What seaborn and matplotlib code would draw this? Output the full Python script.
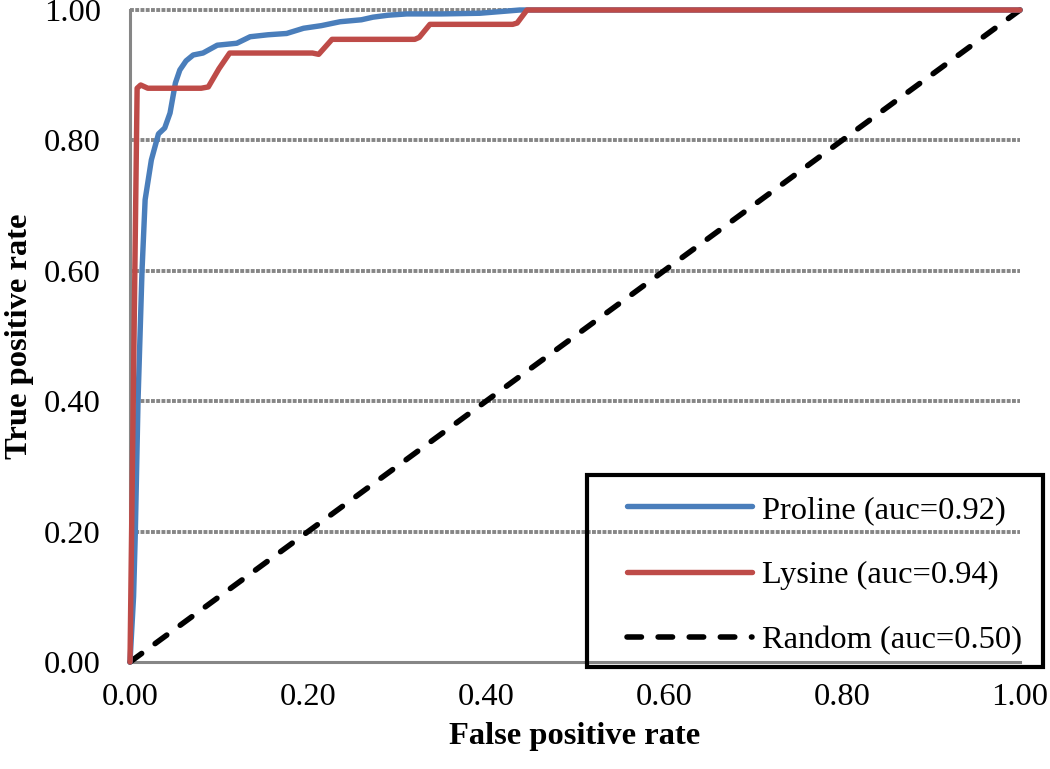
import matplotlib
matplotlib.use("Agg")
import matplotlib.pyplot as plt
from matplotlib.patches import Rectangle
import seaborn as sns
import pandas as pd

# ---- data ----
proline_fpr = [0, 0.004, 0.006, 0.009, 0.0135, 0.017, 0.024, 0.032, 0.039, 0.045,
               0.051, 0.056, 0.063, 0.071, 0.082, 0.098, 0.12, 0.135, 0.155, 0.176,
               0.195, 0.215, 0.236, 0.26, 0.273, 0.29, 0.311, 0.35, 0.393, 0.438, 1.0]
proline_tpr = [0, 0.10, 0.20, 0.40, 0.60, 0.709, 0.77, 0.81, 0.819, 0.842,
               0.888, 0.908, 0.922, 0.931, 0.934, 0.946, 0.949, 0.959, 0.962, 0.964,
               0.972, 0.976, 0.982, 0.985, 0.989, 0.992, 0.994, 0.994, 0.995, 1.0, 1.0]
lysine_fpr = [0, 0.008, 0.012, 0.02, 0.08, 0.088, 0.1, 0.112, 0.205, 0.212,
              0.227, 0.32, 0.325, 0.337, 0.43, 0.435, 0.446, 1.0]
lysine_tpr = [0, 0.88, 0.885, 0.88, 0.88, 0.882, 0.91, 0.934, 0.934, 0.932,
              0.955, 0.955, 0.958, 0.978, 0.978, 0.98, 1.0, 1.0]
random_fpr = [0, 1.0]
random_tpr = [0, 1.0]

labels = ["Proline (auc=0.92)", "Lysine (auc=0.94)", "Random (auc=0.50)"]
ticks = [0.0, 0.2, 0.4, 0.6, 0.8, 1.0]
tick_labels = ["0.00", "0.20", "0.40", "0.60", "0.80", "1.00"]
x_title = "False positive rate"
y_title = "True positive rate"

sns.set_style("white")
plt.rcParams["font.family"] = ["Liberation Serif", "DejaVu Serif"]
plt.rcParams["text.color"] = "black"

FS = 23.4
W, H = 1050, 769

fig = plt.figure(figsize=(10.5, 7.69), dpi=100)
ax = fig.add_axes([130 / W, 107 / H, 890 / W, 652 / H])

blue = "#4A7EBB"
red = "#BE4B48"
grid_c = "#868686"

for yv in ticks[1:]:
    ax.axhline(yv, color=grid_c, lw=2.8, linestyle=(0, (1.0, 0.35)), zorder=1,
               clip_on=False)

df_p = pd.DataFrame({"fpr": proline_fpr, "tpr": proline_tpr})
df_l = pd.DataFrame({"fpr": lysine_fpr, "tpr": lysine_tpr})
df_r = pd.DataFrame({"fpr": random_fpr, "tpr": random_tpr})

sns.lineplot(data=df_r, x="fpr", y="tpr", ax=ax, sort=False, estimator=None,
             color="black", lw=4.0, label=labels[2], zorder=3)
sns.lineplot(data=df_p, x="fpr", y="tpr", ax=ax, sort=False, estimator=None,
             color=blue, lw=3.9, label=labels[0], zorder=4)
sns.lineplot(data=df_l, x="fpr", y="tpr", ax=ax, sort=False, estimator=None,
             color=red, lw=3.9, label=labels[1], zorder=5)

lines = ax.get_lines()
line_r, line_p, line_l = lines[-3], lines[-2], lines[-1]
line_r.set_linestyle((0, (2.6, 3.0)))
line_r.set_dash_capstyle("round")
for ln in (line_r, line_p, line_l):
    ln.set_clip_on(False)
    ln.set_solid_joinstyle("round")

ax.set_xlim(0, 1)
ax.set_ylim(0, 1)
ax.set_xticks(ticks)
ax.set_xticklabels(tick_labels)
ax.set_yticks(ticks)
ax.set_yticklabels(tick_labels)
ax.tick_params(axis="both", length=0, labelsize=FS, colors="black")
ax.tick_params(axis="y", pad=21)
ax.tick_params(axis="x", pad=15)

for s in ("top", "right"):
    ax.spines[s].set_visible(False)
for s in ("left", "bottom"):
    ax.spines[s].set_color(grid_c)
    ax.spines[s].set_linewidth(2.2)
    ax.spines[s].set_zorder(2)

ax.set_xlabel(x_title, fontsize=FS, fontweight="bold", labelpad=7, color="black")
ax.set_ylabel(y_title, fontsize=FS, fontweight="bold", labelpad=7, color="black")

leg = ax.legend(handles=[line_p, line_l, line_r], labels=labels,
                loc="upper left", bbox_to_anchor=(627 / W, (H - 495) / H),
                bbox_transform=fig.transFigure, fontsize=FS, frameon=False,
                handlelength=3.85, handletextpad=0.3,
                labelspacing=1.09, borderpad=0, borderaxespad=0)
for t in leg.get_texts():
    t.set_color("black")
leg.set_zorder(6)

# legend frame (black box with no fill, as in the reference)
fig.patches.append(Rectangle((587 / W, (H - 667) / H), 456 / W, 192 / H,
                             transform=fig.transFigure, fill=False,
                             edgecolor="black", linewidth=3.0, zorder=7))

fig.savefig("out.png", dpi=100)
